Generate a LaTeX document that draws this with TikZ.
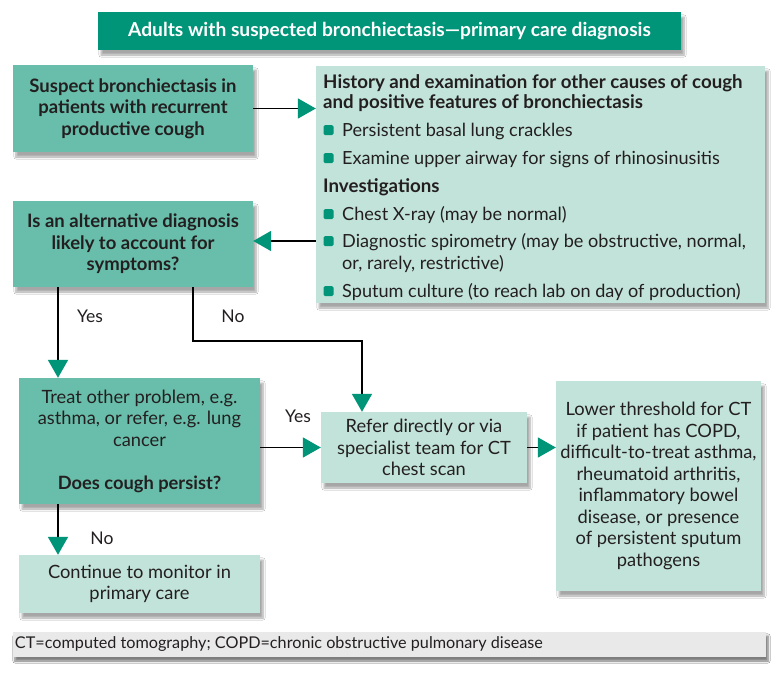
\documentclass[tikz,border=0pt]{standalone}
\usepackage{fontspec}
\setmainfont{Lato}
\usetikzlibrary{arrows.meta,shadows.blur}
\definecolor{tealdark}{RGB}{0,148,120}
\definecolor{tealmid}{RGB}{104,190,170}
\definecolor{teallight}{RGB}{194,227,217}
\definecolor{footgray}{RGB}{233,233,233}
\definecolor{inktext}{RGB}{35,31,32}
\def\histitems{130/{Persistent basal lung crackles}, 158/{Examine upper airway for signs of rhinosinusitis}, 214/{Chest X-ray (may be normal)}, 241/{Diagnostic spirometry (may be obstructive, normal,}, 291/{Sputum culture (to reach lab on day of production)}}
\def\histheads{82/{History and examination for other causes of cough}, 102/{and positive features of bronchiectasis}, 186/{Investigations}}
\tikzset{
  box/.style={rectangle, inner sep=0pt, align=center, text=inktext,
    font=\fontsize{18.3}{21.5}\selectfont,
    blur shadow={shadow xshift=3pt, shadow yshift=-5pt, shadow blur steps=6, shadow opacity=35}},
  darkbox/.style={box, fill=tealmid, font=\fontsize{18.5}{21.5}\selectfont\bfseries},
  lightbox/.style={box, fill=teallight},
  flow/.style={draw=black, line width=1.8pt, -{Triangle[width=20pt,length=18pt,color=tealdark]}},
  answer/.style={inner sep=0pt, text=inktext, font=\fontsize{17.5}{20}\selectfont},
  item/.style={anchor=base west, inner sep=0pt, text=inktext, font=\fontsize{18.1}{20}\selectfont},
  bullet/.style={fill=tealdark, rounded corners=1.5pt, minimum size=10pt, inner sep=0pt}
}
\begin{document}
\begin{tikzpicture}[x=1pt, y=-1pt]
  \useasboundingbox[fill=white] (0,0) rectangle (780,678);

  % Title
  \node[box, fill=tealdark, text=white, minimum width=583pt, minimum height=38pt,
        font=\fontsize{19.2}{21}\selectfont\bfseries] (title) at (389.5,31)
        {Adults with suspected bronchiectasis—primary care diagnosis};

  % Left column
  \node[darkbox, minimum width=240pt, minimum height=87pt] (suspect) at (133,108.5)
        {Suspect bronchiectasis in\\patients with recurrent\\productive cough};
  \node[darkbox, minimum width=240pt, minimum height=86pt] (alt) at (133,244)
        {Is an alternative diagnosis\\likely to account for\\symptoms?};
  \node[box, fill=tealmid, minimum width=241pt, minimum height=126pt] (treat) at (139.5,441)
        {Treat other problem, e.g.\\asthma, or refer, e.g. lung\\cancer\\[21.5pt]\textbf{Does cough persist?}};
  \node[lightbox, minimum width=241pt, minimum height=58pt] (cont) at (139.5,584)
        {Continue to monitor in\\primary care};

  % Right column
  \node[lightbox, minimum width=449pt, minimum height=237pt] (hist) at (540.5,184.5) {};
  \node[lightbox, minimum width=206pt, minimum height=71pt] (refer) at (424,447.5)
        {Refer directly or via\\specialist team for CT\\chest scan};
  \node[lightbox, minimum width=205pt, minimum height=210pt] (lower) at (658.5,486)
        {Lower threshold for CT\\if patient has COPD,\\difficult-to-treat asthma,\\rheumatoid arthritis,\\inflammatory bowel\\disease, or presence\\of persistent sputum\\pathogens};

  % Text of the history box
  \foreach \y/\txt in \histheads {
    \node[item, font=\fontsize{18.7}{20}\selectfont\bfseries] (head-\y) at (323,\y+6.5) {\txt};
    }
  \foreach \y/\txt in \histitems {
    \node[bullet] (dot-\y) at (328.5,\y) {};
    \node[item] (line-\y) at (342,\y+6.5) {\txt};
    }
  \node[item] (line-263) at (342,269.5) {or, rarely, restrictive)};

  % Footnote
  \node[box, fill=footgray, minimum width=753pt, minimum height=25pt,
        blur shadow={shadow xshift=2pt, shadow yshift=-4pt, shadow opacity=30}] (foot) at (389.5,644.5) {};
  \node[anchor=west, inner sep=0pt, text=inktext, font=\fontsize{16.2}{18}\selectfont] (foottext)
        at (foot.west) [xshift=2pt] {CT=computed tomography; COPD=chronic obstructive pulmonary disease};

  % Connections
  \path[flow] (suspect.east) -- (suspect.east -| hist.west);
  \path[flow] ([yshift=3pt]alt.east -| hist.west) -- ([yshift=3pt]alt.east);
  \path[flow] ([xshift=-75pt]alt.south) -- ([xshift=-75pt]alt.south |- treat.north);
  \path[flow] ([xshift=60pt]alt.south) -- ++(0,54) -| ([xshift=-62pt]refer.north);
  \path[flow] (treat.east |- refer.west) -- (refer.west);
  \path[flow] ([xshift=-81.5pt]treat.south) -- ([xshift=-81.5pt]treat.south |- cont.north);
  \path[flow] (refer.east) -- (refer.east -| lower.west);

  % Answers
  \node[answer] (yes-alt) at (90,316) {Yes};
  \node[answer] (no-alt) at (233,316) {No};
  \node[answer] (yes-treat) at (298,416) {Yes};
  \node[answer] (no-treat) at (102,538) {No};
\end{tikzpicture}
\end{document}
